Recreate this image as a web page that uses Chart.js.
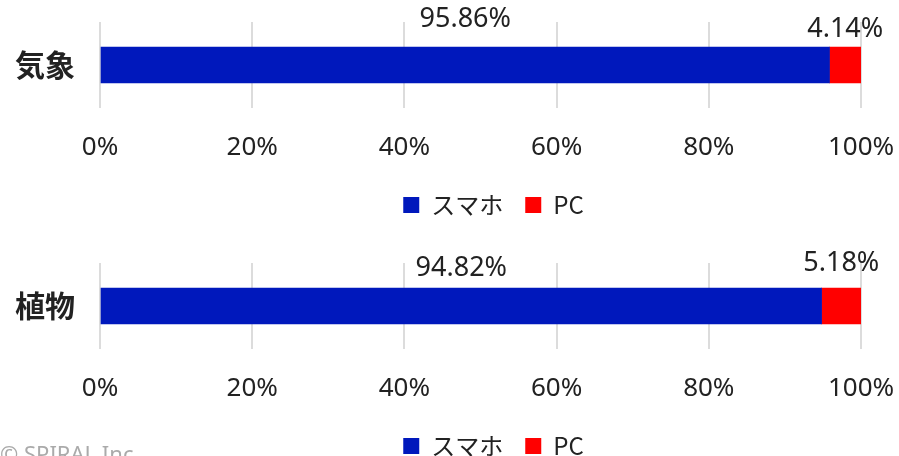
<!DOCTYPE html>
<html lang="ja">
<head>
<meta charset="utf-8">
<script src="https://cdn.jsdelivr.net/npm/chart.js@4"></script>
<style>
  html, body { margin: 0; padding: 0; background: #fff; overflow: hidden; }
  body { width: 899px; height: 456px; position: relative; }
  .box { position: absolute; left: 0; width: 899px; height: 242px; }
  #copy { position: absolute; left: 0; top: 438px; font: 22px "Noto Sans", sans-serif; color: #aaa; white-space: nowrap; }
</style>
</head>
<body>
<div class="box" style="top:0"><canvas id="chart1"></canvas></div>
<div class="box" style="top:241px"><canvas id="chart2"></canvas></div>
<div id="copy">© SPIRAL Inc.</div>
<script>
// datos
const seriesNames = ["スマホ", "PC"];
const categories = ["気象", "植物"];
const smartphone = [95.86, 94.82];
const pc = [4.14, 5.18];
const xTicks = [0, 20, 40, 60, 80, 100];

const colors = ["#0018bc", "#ff0000"];
const textColor = "#222";
const numFont = "'Noto Sans', sans-serif";
const cjkFont = "'Noto Sans CJK JP', sans-serif";

// etiquetas de porcentaje encima de cada tramo
const valueLabels = {
    id: "valueLabels",
    afterDatasetsDraw(chart, args, opts) {
        const ctx = chart.ctx;
        ctx.save();
        ctx.font = "27px " + numFont;
        ctx.fillStyle = textColor;
        ctx.textAlign = "center";
        ctx.textBaseline = "middle";
        chart.data.datasets.forEach((ds, i) => {
            chart.getDatasetMeta(i).data.forEach((bar, j) => {
                const x = (bar.x + bar.base) / 2;
                const y = chart.chartArea.top + (opts.offsets[i] || 0);
                ctx.fillText(ds.data[j].toFixed(2) + "%", x, y);
            });
        });
        ctx.restore();
    }
};

// mover la leyenda un poco a la derecha
const legendShift = {
    id: "legendShift",
    afterLayout(chart, args, opts) {
        chart.legend.left += opts.dx;
        chart.legend.right += opts.dx;
    }
};

function makeChart(id, idx, offsets) {
    return new Chart(document.getElementById(id), {
        type: "bar",
        data: {
            labels: [categories[idx]],
            datasets: [
                { label: seriesNames[0], data: [smartphone[idx]], backgroundColor: colors[0], barThickness: 36 },
                { label: seriesNames[1], data: [pc[idx]], backgroundColor: colors[1], barThickness: 36 }
            ]
        },
        options: {
            indexAxis: "y",
            responsive: true,
            maintainAspectRatio: false,
            animation: false,
            layout: { padding: { top: 22, right: 38, bottom: 15 } },
            scales: {
                x: {
                    stacked: true,
                    min: xTicks[0],
                    max: xTicks[xTicks.length - 1],
                    afterBuildTicks: (s) => { s.ticks = xTicks.map(v => ({ value: v })); },
                    afterFit: (s) => { s.height = 63; s.paddingLeft = 0; s.paddingRight = 0; },
                    grid: { color: "#dcdcdc", lineWidth: 2, drawTicks: false },
                    border: { display: false },
                    ticks: {
                        padding: 24,
                        color: textColor,
                        font: { size: 26, family: numFont },
                        callback: (v) => v + "%"
                    }
                },
                y: {
                    stacked: true,
                    afterFit: (s) => { s.width = 100; s.paddingTop = 0; s.paddingBottom = 0; },
                    grid: { display: false, drawTicks: false },
                    border: { display: false },
                    ticks: {
                        padding: 25,
                        color: textColor,
                        font: { size: 30, weight: "bold", family: cjkFont }
                    }
                }
            },
            plugins: {
                legend: {
                    position: "bottom",
                    labels: {
                        boxWidth: 16,
                        boxHeight: 16,
                        padding: 22,
                        color: textColor,
                        font: { size: 24, family: cjkFont }
                    }
                },
                tooltip: { enabled: false },
                valueLabels: { offsets: offsets },
                legendShift: { dx: 63 }
            }
        },
        plugins: [valueLabels, legendShift]
    });
}

makeChart("chart1", 0, [-3, 7]);
makeChart("chart2", 1, [5, 0]);
</script>
</body>
</html>
